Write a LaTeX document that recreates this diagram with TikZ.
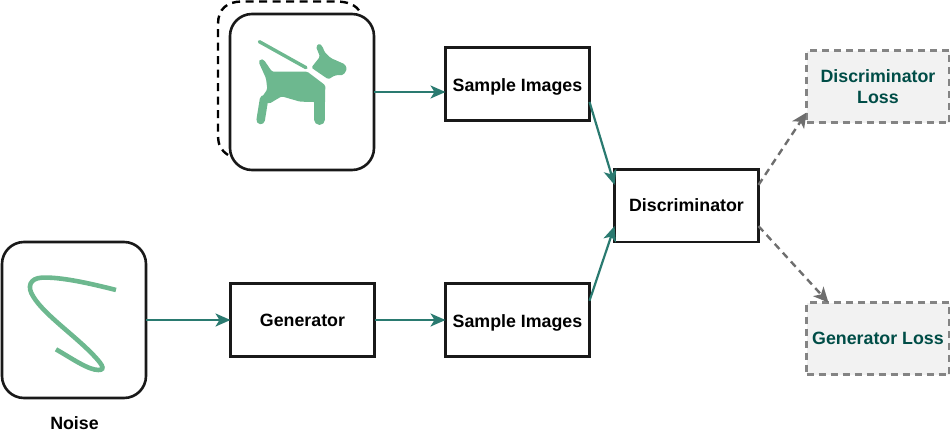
\documentclass[tikz,border=0pt]{standalone}
\usepackage{fontspec}
\setmainfont{Liberation Sans}
\usetikzlibrary{arrows.meta}
\definecolor{teal1}{HTML}{2A7A70}
\definecolor{tealtext}{HTML}{004D47}
\definecolor{green1}{HTML}{6DB88F}
\definecolor{gray1}{HTML}{6E6E6E}
\tikzset{
  boxn/.style={draw=black!90,line width=2.6pt,minimum width=144pt,outer sep=0pt,inner sep=0pt,align=center,font=\fontsize{17.8}{22}\selectfont\bfseries},
  lossn/.style={draw=gray1!85,dash pattern=on 7pt off 5pt,line width=2.4pt,fill=black!5,minimum width=143pt,minimum height=72pt,outer sep=0pt,inner sep=0pt,align=center,text=tealtext,font=\fontsize{17.8}{21}\selectfont\bfseries},
  pic/.style={draw=black!90,line width=2.6pt,rounded corners=22pt,minimum width=144pt,minimum height=156pt,outer sep=0pt},
  flow/.style={draw=teal1,line width=2.2pt,-{Stealth[length=15pt,width=13pt,inset=4pt]}},
  lossflow/.style={draw=gray1,line width=2.4pt,dash pattern=on 7pt off 5pt,-{Stealth[length=15pt,width=14pt,inset=4pt]}},
  art/.style={fill=green1,draw=none}
}
\begin{document}
\begin{tikzpicture}[x=1pt,y=-1pt]
\useasboundingbox (0,0) rectangle (950,434);
% dashed sheet behind the picture box
\draw[black,line width=2.4pt,dash pattern=on 8pt off 5.5pt] (228,155) .. controls (221,150) and (218,146) .. (218,134) -- (218,24) .. controls (218,9) and (227,1.5) .. (242,1.5) -- (336,1.5) .. controls (348,1.5) and (356,5) .. (360,12);
\node[pic] (dog) at (302,92) {};
\node[pic] (noise) at (74,320) {};
% dog
\begin{scope}[shift={(210,0)},x=0.3333pt,y=-0.3333pt]
\draw[green1,line width=3.4pt,line cap=round] (148,125) -- (288,203);
\fill[art,rounded corners=1.5pt] (146,186) -- (152,177) -- (162,180) -- (186,215) -- (292,215) -- (346,256) -- (345,310) -- (313,306) -- (270,305) -- (215,289) -- (178,311) -- (150,300) -- (172,268) -- (168,235) -- cycle;
\draw[green1,line width=10.6pt,line cap=round] (329,300) -- (329,359);
\draw[green1,line width=8.5pt,line cap=round] (162,298) -- (152,360);
\fill[art,rounded corners=1.5pt] (318,140) -- (328,130) -- (338,140) -- (343,155) -- (362,174) -- (405,193) -- (411,208) -- (400,225) -- (375,226) -- (355,238) -- (304,203) -- (330,170) -- cycle;
\end{scope}
% noise curve
\begin{scope}[shift={(0,235)},x=0.3333pt,y=-0.3333pt]
\draw[green1,line width=4.6pt] (348,165) .. controls (270,145) and (180,125) .. (125,128) .. controls (90,130) and (80,155) .. (100,185) .. controls (130,235) and (215,295) .. (270,350) .. controls (305,385) and (320,405) .. (295,405) .. controls (265,405) and (215,370) .. (168,343);
\end{scope}
\node[font=\fontsize{17.8}{20}\selectfont\bfseries,inner sep=0pt] (noiselabel) at (74.5,423) {Noise};
\node[boxn,minimum height=73pt,text height=16pt,text depth=2pt] (s1) at (517.5,84) {Sample Images};
\node[boxn,minimum height=73pt,text height=16pt,text depth=2pt] (s2) at (517.5,320) {Sample Images};
\node[boxn,minimum height=73pt] (gen) at (302.5,320) {Generator};
\node[boxn,minimum height=72.6pt] (disc) at (686.5,205.5) {Discriminator};
\node[lossn] (dl) at (878,86.5) {Discriminator\\Loss};
\node[lossn] (gl) at (878,338.5) {Generator Loss};
\draw[flow] (dog.east) -- (dog.east -| s1.west);
\draw[flow] (noise.east) -- (gen.west);
\draw[flow] (gen.east) -- (s2.west);
\draw[flow] (s1.-14) -- (disc.164);
\draw[flow] (s2.15.6) -- (disc.196.6);
\draw[lossflow] (disc.16) -- (dl.200);
\draw[lossflow] (disc.-16) -- (gl.144);
\end{tikzpicture}
\end{document}
